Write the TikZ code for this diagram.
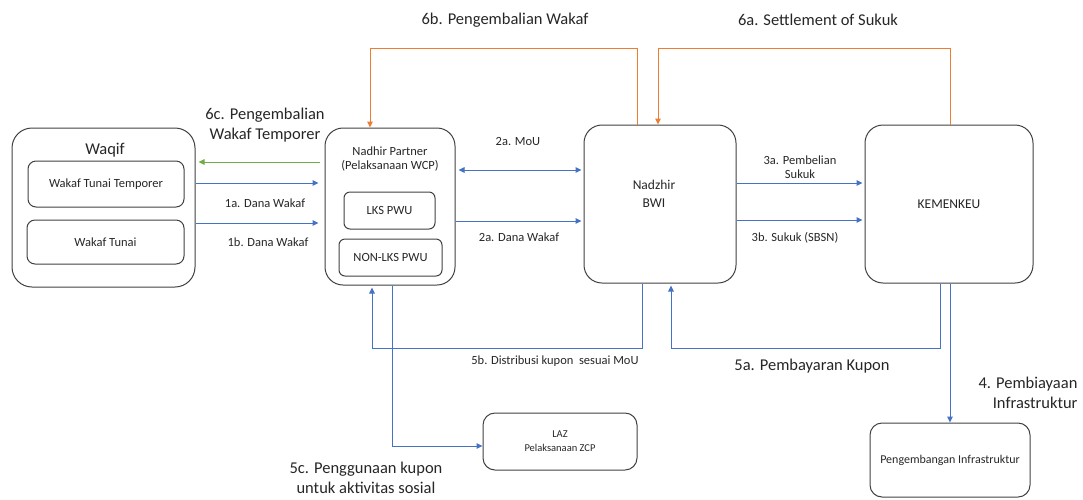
\documentclass[tikz,border=0pt]{standalone}
\usepackage{fontspec}
\setmainfont{Carlito}
\usetikzlibrary{arrows.meta}
\definecolor{cblue}{HTML}{4472C4}
\definecolor{corange}{HTML}{ED7D31}
\definecolor{cgreen}{HTML}{70AD47}
\definecolor{cbox}{HTML}{404040}
\definecolor{ctext}{HTML}{262626}
\tikzset{
  rbox/.style={draw=cbox, line width=1pt, rounded corners=#1, inner sep=0pt, align=center, text=ctext, font=\fontsize{12.5}{15}\selectfont},
  rbox/.default=18pt,
  tip/.style={-{Triangle[width=5.5pt,length=6pt]}},
  barrow/.style={draw=cblue, line width=1pt, tip},
  oarrow/.style={draw=corange, line width=1pt, tip},
  garrow/.style={draw=cgreen, line width=1pt, tip},
  small/.style={text=ctext, font=\fontsize{12.5}{14.5}\selectfont, align=center, inner sep=0pt},
  big/.style={text=ctext, font=\fontsize{16.5}{20}\selectfont, align=center, inner sep=0pt},
}
\begin{document}
\begin{tikzpicture}[x=1pt,y=-1pt]
\useasboundingbox (0,0) rectangle (1083,499);
% boxes
\node[rbox=20pt, minimum width=183pt, minimum height=159pt] (waqif) at (103.5,207.5) {};
\node[big] (waqiftitle) at (105,150) {Waqif};
\node[rbox=8pt, minimum width=156pt, minimum height=46pt] (wtt) at (106,184) {Wakaf Tunai Temporer};
\node[rbox=8pt, minimum width=157pt, minimum height=44pt] (wt) at (105.5,242) {Wakaf Tunai};
\node[rbox=18pt, minimum width=130pt, minimum height=157pt] (nadhir) at (390,206.5) {};
\node[small] (nadhirtitle) at (390,159) {Nadhir Partner\\(Pelaksanaan WCP)};
\node[rbox=6pt, minimum width=91pt, minimum height=37pt] (lks) at (389.5,210.5) {LKS PWU};
\node[rbox=6pt, minimum width=103pt, minimum height=37pt] (nonlks) at (390.5,257.5) {NON-LKS PWU};
\node[rbox=18pt, minimum width=152pt, minimum height=158pt] (bwi) at (660,204) {};
\node[text=ctext, align=center, inner sep=0pt, font=\fontsize{13.5}{18}\selectfont] (bwitext) at (654,194) {Nadzhir\\BWI};
\node[rbox=18pt, minimum width=168pt, minimum height=158pt, font=\fontsize{13.5}{18}\selectfont] (kem) at (949,204) {KEMENKEU};
\node[rbox=12pt, minimum width=154pt, minimum height=57pt, font=\fontsize{10.5}{14}\selectfont] (laz) at (560,441.5) {LAZ\\Pelaksanaan ZCP};
\node[rbox=12pt, minimum width=160pt, minimum height=74pt, font=\fontsize{12}{14}\selectfont] (peng) at (950,460) {Pengembangan Infrastruktur};
% arrows left
\draw[garrow, shorten <=5pt, shorten >=3pt] (nadhir.west |- 0,162) -- (waqif.east |- 0,162);
\draw[barrow, shorten >=6pt] (waqif.east |- 0,183) -- (nadhir.west |- 0,183);
\draw[barrow, shorten >=6pt] (waqif.east |- 0,223) -- (nadhir.west |- 0,223);
\draw[draw=cblue, line width=1pt, {Triangle[width=5.5pt,length=6pt]}-{Triangle[width=5.5pt,length=6pt]}, shorten <=3pt, shorten >=2pt] (nadhir.east |- 0,170) -- (bwi.west |- 0,170);
\draw[barrow, shorten >=2pt] (nadhir.east |- 0,221) -- (bwi.west |- 0,221);
\draw[barrow, shorten >=2pt] (bwi.east |- 0,183) -- (kem.west |- 0,183);
\draw[barrow, shorten >=2pt] (bwi.east |- 0,220) -- (kem.west |- 0,220);
% orange
\draw[oarrow] (637,0 |- bwi.north) -- (637,48) -| (370,0 |- nadhir.north);
\draw[oarrow] (950,0 |- kem.north) -- (950,48) -| (658,0 |- bwi.north);
% bottom
\draw[barrow, shorten >=2pt] (642,0 |- bwi.south) -- (642,348) -| (372,0 |- nadhir.south);
\draw[barrow, shorten >=2pt] (940,0 |- kem.south) -- (940,348) -| (671,0 |- bwi.south);
\draw[barrow] (392,0 |- nadhir.south) |- (laz.west |- 0,446);
\draw[barrow] (950,0 |- kem.south) -- (peng.north);
% labels
\node[big] (l6b) at (505,20) {6b. Pengembalian Wakaf};
\node[big] (l6a) at (818,20) {6a. Settlement of Sukuk};
\node[big] (l6c) at (265,125) {6c. Pengembalian\\Wakaf Temporer};
\node[small] (l1a) at (265,203) {1a. Dana Wakaf};
\node[small] (l1b) at (268,242) {1b. Dana Wakaf};
\node[small] (l2a) at (518,141) {2a. MoU};
\node[small] (l2b) at (519,237) {2a. Dana Wakaf};
\node[small] (l3a) at (800,167) {3a. Pembelian\\Sukuk};
\node[small] (l3b) at (795,238) {3b. Sukuk (SBSN)};
\node[small] (l5b) at (555,361) {5b. Distribusi kupon\ \ sesuai MoU};
\node[big] (l5a) at (812,366) {5a. Pembayaran Kupon};
\node[big] (l4) at (1028,393) {4. Pembiayaan\\\hphantom{xx}Infrastruktur};
\node[big] (l5c) at (366,478) {5c. Penggunaan kupon\\untuk aktivitas sosial};
\end{tikzpicture}
\end{document}
